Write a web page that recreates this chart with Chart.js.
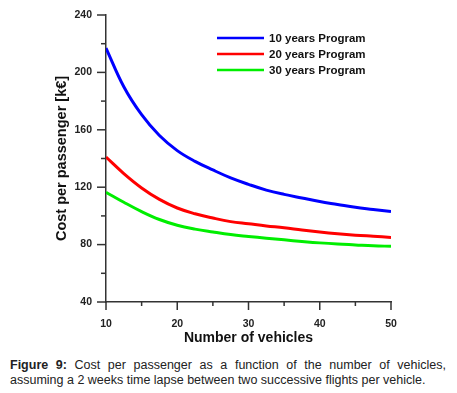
<!DOCTYPE html>
<html>
<head>
<meta charset="utf-8">
<script src="https://cdn.jsdelivr.net/npm/chart.js@4.4.0/dist/chart.umd.min.js"></script>
<style>
  html, body { margin: 0; padding: 0; background: #fff; }
  #wrap { position: relative; width: 457px; height: 393px; overflow: hidden; }
  #c { position: absolute; left: 0; top: 0; }
  #cap { position: absolute; left: 10px; top: 357.5px; width: 436px;
         font-family: "Liberation Sans", Arial, sans-serif; font-size: 12.5px; line-height: 15px;
         color: #222; text-align: justify; text-align-last: left; }
  #cap b { font-weight: bold; }
</style>
</head>
<body>
<div id="wrap">
  <canvas id="c" width="457" height="350"></canvas>
  <div id="cap"><b>Figure 9:</b> Cost per passenger as a function of the number of vehicles, assuming a 2 weeks time lapse between two successive flights per vehicle.</div>
</div>
<script>
const vehicles  = [10, 12.5, 15, 17.5, 20, 22.5, 25, 27.5, 30, 32.5, 35, 37.5, 40, 42.5, 45, 47.5, 50];
const program10 = [217, 190, 170.5, 156, 145.5, 138, 132, 126.5, 122, 118, 115, 112.5, 110, 108, 106, 104.5, 103];
const program20 = [141, 129.5, 119.5, 111.5, 105.5, 101.5, 98.5, 96, 94.5, 93, 91.8, 90.2, 88.8, 87.6, 86.6, 85.8, 85];
const program30 = [116.5, 109.5, 103, 97.5, 93.5, 90.8, 88.8, 87, 85.7, 84.5, 83.3, 82.2, 81.2, 80.4, 79.8, 79.2, 78.8];
const seriesLabels = ['10 years Program', '20 years Program', '30 years Program'];
const seriesColors = ['#0000ff', '#ff0000', '#00ee00'];
const xTitle = 'Number of vehicles';
const yTitle = 'Cost per passenger [k\u20ac]';

const toPts = arr => vehicles.map((v, i) => ({x: v, y: arr[i]}));
const FONT = '"Liberation Sans", Arial, sans-serif';
const AXIS = '#333';

const tickPlugin = {
  id: 'customTicks',
  afterDraw(chart) {
    const ctx = chart.ctx;
    const xs = chart.scales.x, ys = chart.scales.y;
    ctx.save();
    ctx.strokeStyle = AXIS;
    ctx.lineWidth = 1.5;
    const x0 = chart.chartArea.left, y0 = chart.chartArea.bottom;
    ys.ticks.forEach(t => {
      const p = ys.getPixelForValue(t.value);
      const len = (t.value % 40 === 0) ? 9 : 5;
      ctx.beginPath(); ctx.moveTo(x0 - len, p); ctx.lineTo(x0, p); ctx.stroke();
    });
    xs.ticks.forEach(t => {
      const p = xs.getPixelForValue(t.value);
      const len = (t.value % 10 === 0) ? 8 : 4;
      ctx.beginPath(); ctx.moveTo(p, y0); ctx.lineTo(p, y0 + len); ctx.stroke();
    });
    ctx.restore();
  }
};

const legendPlugin = {
  id: 'insideLegend',
  afterDraw(chart) {
    const ctx = chart.ctx;
    const ca = chart.chartArea;
    ctx.save();
    ctx.font = 'bold 11.5px ' + FONT;
    ctx.textBaseline = 'middle';
    chart.data.datasets.forEach((ds, i) => {
      const y = ca.top + 23 + i * 16;
      const x = ca.left + 111;
      ctx.strokeStyle = ds.borderColor;
      ctx.lineWidth = 2.5;
      ctx.beginPath(); ctx.moveTo(x, y); ctx.lineTo(x + 47, y); ctx.stroke();
      ctx.fillStyle = '#111';
      ctx.fillText(ds.label, x + 52, y + 0.5);
    });
    ctx.restore();
  }
};

new Chart(document.getElementById('c'), {
  type: 'line',
  data: {
    datasets: [
      {label: seriesLabels[0], data: toPts(program10), borderColor: seriesColors[0]},
      {label: seriesLabels[1], data: toPts(program20), borderColor: seriesColors[1]},
      {label: seriesLabels[2], data: toPts(program30), borderColor: seriesColors[2]}
    ].map(d => Object.assign(d, {borderWidth: 3, pointRadius: 0, tension: 0.4, fill: false}))
  },
  options: {
    responsive: false,
    animation: false,
    layout: {padding: {top: 15, right: 66, left: 0, bottom: 0}},
    plugins: {legend: {display: false}, tooltip: {enabled: false}},
    scales: {
      x: {
        type: 'linear', min: 10, max: 50,
        afterFit: s => { s.height = 48; },
        ticks: {stepSize: 5, autoSkip: false, maxRotation: 0, padding: 0, color: '#222',
                font: {family: FONT, size: 10.5, weight: 'bold'},
                callback: v => (v % 10 === 0 ? String(v) : '')},
        grid: {display: true, drawOnChartArea: false, drawTicks: true, tickLength: 15.5, tickColor: 'rgba(0,0,0,0)'},
        border: {display: true, color: AXIS, width: 1.5},
        title: {display: true, text: xTitle, color: '#111', padding: {top: 0, bottom: 3.5},
                font: {family: FONT, size: 14, weight: 'bold'}}
      },
      y: {
        type: 'linear', min: 40, max: 240,
        afterFit: s => { s.width = 106; },
        ticks: {stepSize: 20, autoSkip: false, padding: 0, color: '#222',
                font: {family: FONT, size: 10.5, weight: 'bold'},
                callback: v => (v % 40 === 0 ? String(v) : '')},
        grid: {display: true, drawOnChartArea: false, drawTicks: true, tickLength: 14, tickColor: 'rgba(0,0,0,0)'},
        border: {display: true, color: AXIS, width: 1.5},
        title: {display: true, text: yTitle, color: '#111', padding: {top: 53, bottom: 0},
                font: {family: FONT, size: 14.5, weight: 'bold'}}
      }
    }
  },
  plugins: [tickPlugin, legendPlugin]
});
</script>
</body>
</html>
